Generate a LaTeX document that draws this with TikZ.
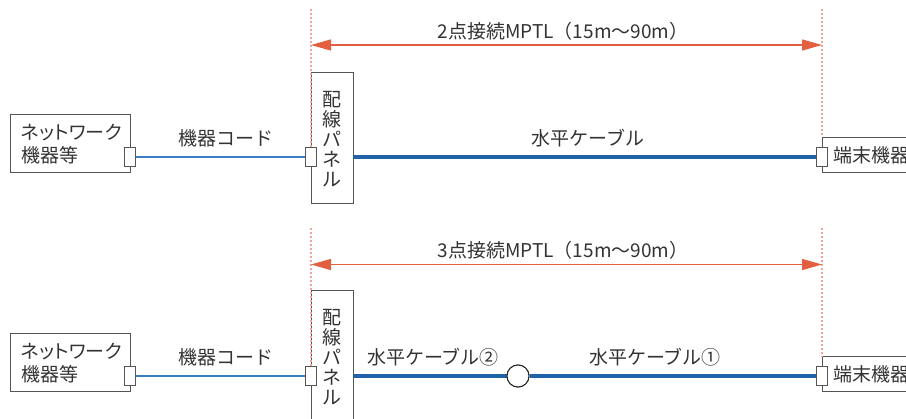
\documentclass[tikz,border=0pt]{standalone}
\usepackage{fontspec}
\setmainfont{Noto Sans CJK JP}
\newfontfamily\jpprop{Noto Sans CJK JP}[RawFeature=+palt]
\usetikzlibrary{arrows.meta}
\definecolor{dimred}{HTML}{E2603F}
\definecolor{guidepink}{HTML}{F2A595}
\definecolor{cableblue}{HTML}{1F62A8}
\definecolor{cordblue}{HTML}{3A7FC4}
\definecolor{edge}{HTML}{555555}
\definecolor{txt}{HTML}{333333}
\tikzset{
  every node/.style={text=txt, font=\fontsize{19}{21}\selectfont},
  boxnode/.style={draw=edge, line width=0.9pt, fill=white, inner sep=0pt},
  portnode/.style={draw=edge, line width=0.9pt, fill=white, minimum width=11pt, minimum height=19pt, inner sep=0pt},
  guide/.style={draw=guidepink, line width=1.3pt, dash pattern=on 2pt off 2pt},
  dimline/.style={draw=dimred, line width=1.3pt, {Triangle[length=20pt,width=11pt]}-{Triangle[length=20pt,width=11pt]}},
  cord/.style={draw=cordblue, line width=1.6pt},
  cable/.style={draw=cableblue, line width=4pt},
  joint/.style={circle, draw=black!85, line width=1pt, fill=white, minimum size=22pt, inner sep=0pt},
  nettext/.style={anchor=west, align=left, inner sep=0pt, font=\jpprop\fontsize{19}{23}\selectfont},
}
\begin{document}
\begin{tikzpicture}[x=1pt,y=-1pt]
\useasboundingbox (0,0) rectangle (906,419);
\clip (0,0) rectangle (906,419);
% ---------- section 1 ----------
\node[boxnode, minimum width=120pt, minimum height=58pt] (net1) at (70,143) {};
\node[nettext] (net1t) at (21,144) {ネットワーク\\機器等};
\node[boxnode, minimum width=42pt, minimum height=131pt] (pan1) at (332,137.5) {};
\node[align=center, inner sep=0pt, font=\fontsize{19}{20}\selectfont] (pan1t) at (332,139) {配\\線\\パ\\ネ\\ル};
\node[boxnode, anchor=north west, minimum width=110pt, minimum height=35pt] (end1) at (822,137) {};
\node[anchor=west, inner sep=0pt] (end1t) at (833,155) {端末機器};
\coordinate (g1L) at (311,9);
\coordinate (g1R) at (822,9);
\node[portnode] (np1) at (130,157) {};
\node[portnode] (pp1) at (311,157) {};
\node[portnode] (ep1) at (822,157) {};
\draw[guide] (g1L) -- (pp1.north);
\draw[guide] (g1R) -- (end1.north west);
\node[portnode] at (pp1) {};
\node[portnode] at (ep1) {};
\coordinate (a1L) at (311,45);
\coordinate (a1R) at (822,45);
\draw[dimline] (a1L) -- (a1R);
\node (lab1) at (563,31) {2点接続MPTL（15m～90m）};
\draw[cord] (np1.east) -- (pp1.west);
\node (cordlab1) at (226,138) {機器コード};
\draw[cable] (pan1.east |- pp1) -- (ep1.west);
\node (cablab1) at (588,138) {水平ケーブル};
% ---------- section 2 ----------
\begin{scope}[yshift=-219pt]
\node[boxnode, minimum width=120pt, minimum height=58pt] (net2) at (70,143) {};
\node[nettext] (net2t) at (21,144) {ネットワーク\\機器等};
\node[boxnode, minimum width=42pt, minimum height=131pt] (pan2) at (332,136.5) {};
\node[align=center, inner sep=0pt, font=\fontsize{19}{20}\selectfont] (pan2t) at (332,138) {配\\線\\パ\\ネ\\ル};
\node[boxnode, anchor=north west, minimum width=110pt, minimum height=35pt] (end2) at (822,137.5) {};
\node[anchor=west, inner sep=0pt] (end2t) at (833,155.5) {端末機器};
\coordinate (g2L) at (311,9);
\coordinate (g2R) at (822,9);
\node[portnode] (np2) at (130,157) {};
\node[portnode] (pp2) at (311,157) {};
\node[portnode] (ep2) at (822,157) {};
\draw[guide] (g2L) -- (pp2.north);
\draw[guide] (g2R) -- (end2.north west);
\node[portnode] at (pp2) {};
\node[portnode] at (ep2) {};
\coordinate (a2L) at (311,45.5);
\coordinate (a2R) at (822,45.5);
\draw[dimline] (a2L) -- (a2R);
\node (lab2) at (563,31) {3点接続MPTL（15m～90m）};
\draw[cord] (np2.east) -- (pp2.west);
\node (cordlab2) at (226,138) {機器コード};
\node[joint] (jt2) at (518,157) {};
\draw[cable] (pan2.east |- pp2) -- (jt2.west);
\draw[cable] (jt2.east) -- (ep2.west);
\node[joint] at (jt2) {};
\node (cablab2a) at (433,138) {水平ケーブル②};
\node (cablab2b) at (655,138) {水平ケーブル①};
\end{scope}
\end{tikzpicture}
\end{document}
